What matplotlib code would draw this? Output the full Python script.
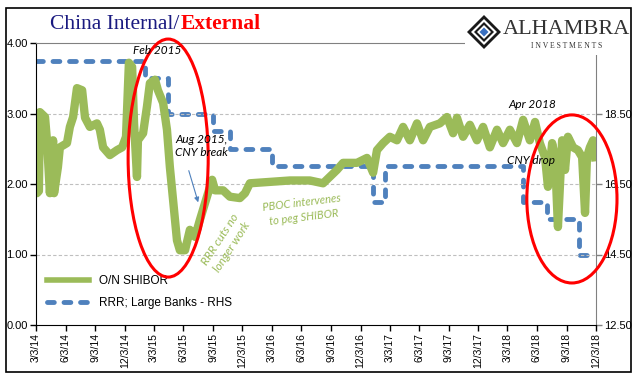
import numpy as np
import pandas as pd
import matplotlib
matplotlib.use('Agg')
import matplotlib.pyplot as plt
from matplotlib.patches import Ellipse, Rectangle, Polygon
from matplotlib.lines import Line2D

# O/N SHIBOR (left axis)
shibor_dates = ['2014-03-03', '2014-03-06', '2014-03-12', '2014-03-15', '2014-03-31', '2014-04-06',
                '2014-04-15', '2014-04-25', '2014-04-28', '2014-05-10', '2014-05-16', '2014-06-07',
                '2014-06-16', '2014-06-26', '2014-07-08', '2014-07-24', '2014-08-02', '2014-08-17',
                '2014-09-08', '2014-09-17', '2014-09-27', '2014-10-18', '2014-11-09', '2014-11-25',
                '2014-12-07', '2014-12-16', '2014-12-26', '2015-01-01', '2015-01-10', '2015-01-13',
                '2015-01-29', '2015-02-10', '2015-02-19', '2015-03-07', '2015-03-16', '2015-04-01',
                '2015-04-13', '2015-04-22', '2015-05-02', '2015-05-14', '2015-05-23', '2015-06-08',
                '2015-06-23', '2015-07-09', '2015-07-24', '2015-08-15', '2015-08-31', '2015-09-09',
                '2015-10-04', '2015-10-25', '2015-11-25', '2015-12-11', '2015-12-26', '2016-02-26',
                '2016-04-28', '2016-06-29', '2016-08-09', '2016-09-21', '2016-10-10', '2016-11-22',
                '2016-12-23', '2017-01-11', '2017-01-23', '2017-02-11', '2017-03-04', '2017-03-26',
                '2017-04-14', '2017-05-05', '2017-05-27', '2017-06-15', '2017-07-06', '2017-08-06',
                '2017-08-28', '2017-09-16', '2017-09-28', '2017-10-17', '2017-11-07', '2017-11-29',
                '2017-12-18', '2018-01-08', '2018-01-30', '2018-02-18', '2018-03-11', '2018-04-02',
                '2018-04-21', '2018-05-12', '2018-05-28', '2018-06-12', '2018-06-28', '2018-07-07',
                '2018-07-20', '2018-07-29', '2018-08-07', '2018-08-20', '2018-08-29', '2018-09-07',
                '2018-09-23', '2018-10-08', '2018-10-21', '2018-10-30', '2018-11-05', '2018-11-14',
                '2018-11-24', '2018-11-30']
shibor_vals = [2.10, 1.87, 1.90, 3.02, 2.95, 2.62,
               1.87, 2.62, 1.87, 2.24, 2.52, 2.58,
               2.81, 2.95, 3.36, 3.33, 2.94, 2.81,
               2.86, 2.77, 2.52, 2.41, 2.48, 2.52,
               2.67, 3.72, 3.66, 2.86, 2.10, 2.62,
               2.72, 3.10, 3.43, 3.48, 3.33, 3.15,
               2.77, 2.24, 1.77, 1.20, 1.06, 1.06,
               1.35, 1.25, 1.49, 1.82, 2.06, 1.91,
               1.91, 1.82, 1.80, 1.87, 2.01, 2.03,
               2.05, 2.05, 2.01, 2.20, 2.30, 2.30,
               2.37, 2.16, 2.48, 2.58, 2.67, 2.62,
               2.81, 2.62, 2.86, 2.62, 2.81, 2.86,
               2.95, 2.72, 2.94, 2.67, 2.84, 2.62,
               2.81, 2.52, 2.77, 2.58, 2.77, 2.58,
               2.91, 2.62, 2.88, 2.58, 2.38, 1.96,
               2.58, 2.38, 1.39, 2.62, 2.20, 2.67,
               2.52, 2.48, 2.38, 1.59, 2.38, 2.52,
               2.62, 2.38]

# RRR large banks (right axis), step changes
rrr_dates = ['2014-03-03', '2015-02-04', '2015-04-16', '2015-09-03', '2015-10-25', '2016-03-05',
             '2017-01-12', '2017-02-18', '2018-04-21', '2018-07-04', '2018-10-11', '2018-11-27']
rrr_vals = [20.0, 19.5, 18.5, 18.0, 17.5, 17.0, 16.0, 17.0, 16.0, 15.5, 14.5, 14.5]

tick_labels = ['3/3/14', '6/3/14', '9/3/14', '12/3/14', '3/3/15', '6/3/15', '9/3/15', '12/3/15',
               '3/3/16', '6/3/16', '9/3/16', '12/3/16', '3/3/17', '6/3/17', '9/3/17', '12/3/17',
               '3/3/18', '6/3/18', '9/3/18', '12/3/18']
left_ticks = [0, 1, 2, 3, 4]
right_ticks = [12.5, 14.5, 16.5, 18.5]

W, H = 641, 381
def fx(x):
    return x / W
def fy(y):
    return 1 - y / H

narrow = ['Liberation Sans Narrow', 'Liberation Sans', 'DejaVu Sans']
note = ['Lato', 'DejaVu Sans']
green = '#9BBB59'
blue = '#4F81BD'

fig = plt.figure(figsize=(W / 100, H / 100), dpi=100)
ax = fig.add_axes([fx(36), fy(325), 560 / W, 282 / H])
ax2 = ax.twinx()
ax.set_zorder(ax2.get_zorder() + 1)
ax.patch.set_visible(False)

tick_pos = pd.to_datetime(tick_labels, format='%m/%d/%y')

ax2.step(pd.to_datetime(rrr_dates), rrr_vals, where='post', color=blue, lw=3.5,
         linestyle=(0, (1.4, 2.0)), dash_capstyle='round')
ax.plot(pd.to_datetime(shibor_dates), shibor_vals, color=green, lw=6, solid_joinstyle='round')

ax.set_xlim(tick_pos[0], tick_pos[-1])
ax.set_ylim(0, 4)
ax2.set_ylim(12.5, 20.5)

for v in left_ticks[1:-1]:
    ax.axhline(v, color='#BFBFBF', lw=0.8, ls=(0, (3, 2)), zorder=0)

ax.set_xticks(tick_pos)
ax.set_xticklabels(tick_labels, rotation=90, fontsize=7.5, family=narrow)
ax.set_yticks(left_ticks)
ax.set_yticklabels(['%.2f' % v for v in left_ticks], fontsize=8, family=narrow)
ax2.set_yticks(right_ticks)
ax2.set_yticklabels(['%.2f' % v for v in right_ticks], fontsize=8, family=narrow)
ax.tick_params(axis='both', length=4, width=1, pad=2, color='black')
ax2.tick_params(axis='y', length=4, width=1, pad=2, color='#808080')

for s in ['top', 'right', 'left', 'bottom']:
    ax2.spines[s].set_visible(False)
ax2.spines['right'].set_visible(True)
ax2.spines['right'].set_color('#808080')
ax.spines['right'].set_visible(False)
ax.spines['top'].set_color('#808080')
ax.spines['left'].set_color('black')
ax.spines['bottom'].set_color('black')

handles = [Line2D([], [], color=green, lw=4),
           Line2D([], [], color=blue, lw=3.5, linestyle=(0, (1.4, 2.0)), dash_capstyle='round')]
ax.legend(handles, ['O/N SHIBOR', 'RRR; Large Banks - RHS'], loc='lower left',
          bbox_to_anchor=(0.0, 0.02), frameon=False, handlelength=3.6, labelspacing=0.8,
          prop={'family': narrow, 'size': 8.5})

# red circles
ax.add_patch(Ellipse((0.236, 0.592), 0.143, 0.844, transform=ax.transAxes, fill=False,
                     ec='red', lw=2.2, clip_on=False, zorder=10))
ax.add_patch(Ellipse((0.957, 0.447), 0.161, 0.596, transform=ax.transAxes, fill=False,
                     ec='red', lw=2.2, clip_on=False, zorder=10))

# notes
fig.text(fx(157), fy(51), 'Feb 2015', ha='center', va='center', style='italic', fontsize=8.5, family=note)
fig.text(fx(175), fy(146), 'Aug 2015,\nCNY break', ha='left', va='center', style='italic',
         fontsize=8.5, family=note, linespacing=1.3)
ax.annotate('', xy=(fx(199), fy(205)), xycoords='figure fraction',
            xytext=(fx(188), fy(168)), textcoords='figure fraction',
            arrowprops=dict(arrowstyle='-|>', color=blue, lw=0.8, mutation_scale=7))
fig.text(fx(532), fy(104), 'Apr 2018', ha='center', va='center', style='italic', fontsize=8.5, family=note)
fig.text(fx(531), fy(160), 'CNY drop', ha='center', va='center', style='italic', fontsize=8.5, family=note)
fig.text(fx(226), fy(243), 'RRR cuts no\nlonger work', ha='center', va='center', style='italic',
         fontsize=8.5, family=note, color=green, rotation=57, linespacing=1.3)
fig.text(fx(303), fy(210), 'PBOC intervenes\nto peg SHIBOR', ha='center', va='center', style='italic',
         fontsize=8, family=note, color=green, rotation=7, linespacing=1.4)

# title
serif = ['Liberation Serif', 'DejaVu Serif']
fig.text(fx(50), fy(29), 'China Internal/', color='#1A1A80', fontsize=15.5, family=serif, va='baseline')
fig.text(fx(181), fy(29), 'External', color='#FF0000', fontsize=15.5, family=serif,
         weight='bold', va='baseline')

# logo
fig.patches.append(Rectangle((fx(465), fy(55)), (631 - 465) / W, 46 / H, transform=fig.transFigure,
                             fc='white', ec='none', zorder=5))
cx, cy = 484, 32
for r, c in [(17, '#1a1a1a'), (13, 'white'), (10, '#1a1a1a'), (7, 'white'), (4.5, '#3a70c0')]:
    fig.patches.append(Polygon([(fx(cx - r), fy(cy)), (fx(cx), fy(cy - r)), (fx(cx + r), fy(cy)),
                                (fx(cx), fy(cy + r))], closed=True, transform=fig.transFigure,
                               fc=c, ec='none', zorder=6))
fig.text(fx(503), fy(30), 'ALHAMBRA', fontsize=16, family=serif, color='#333333', va='center', zorder=7)
fig.text(fx(567), fy(46), 'I N V E S T M E N T S', fontsize=5.5, family=serif, color='#333333',
         ha='center', va='center', zorder=7)

# outer frame
fig.patches.append(Rectangle((fx(6), fy(372)), 625 / W, 364 / H, transform=fig.transFigure,
                             fill=False, ec='black', lw=1.2, zorder=8))

fig.savefig('out.png', dpi=100)
